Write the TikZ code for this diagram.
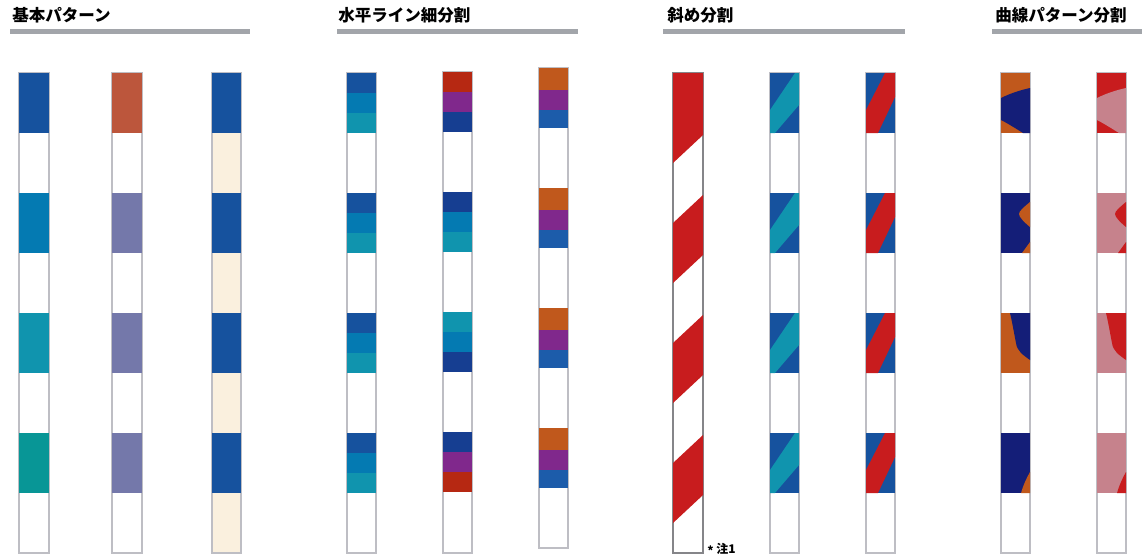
\documentclass[tikz,border=0pt]{standalone}
\usepackage{fontspec}
\newfontfamily\jpfont{Noto Sans CJK JP}
\definecolor{sigblue}{RGB}{22,82,158}
\definecolor{sigmid}{RGB}{4,122,178}
\definecolor{sigcyan}{RGB}{16,148,174}
\definecolor{sigteal}{RGB}{8,150,150}
\definecolor{sigbrick}{RGB}{188,86,60}
\definecolor{sigslate}{RGB}{116,120,170}
\definecolor{sigcream}{RGB}{250,240,222}
\definecolor{signavy}{RGB}{22,62,145}
\definecolor{sigred}{RGB}{182,40,18}
\definecolor{sigpurple}{RGB}{128,40,140}
\definecolor{sigorange}{RGB}{192,88,28}
\definecolor{sigroyal}{RGB}{28,92,170}
\definecolor{sigcrimson}{RGB}{200,28,30}
\definecolor{sigink}{RGB}{20,30,120}
\definecolor{sigpink}{RGB}{198,130,140}
\definecolor{sigrule}{RGB}{162,165,170}
\definecolor{sigedge}{RGB}{190,190,196}
\newcommand{\curvepole}[5]{%
\draw[pole] (#1,73) rectangle ++(29,480);
\fill[#2] (#1,73) rectangle ++(29,60);
\fill[#3] (#1,98) .. controls (#1+10,93) and (#1+20,90) .. (#1+29,88) -- (#1+29,133) -- (#1+22,133) .. controls (#1+14,128) and (#1+6,123) .. (#1,120) -- cycle;
\fill[#3] (#1,193) rectangle ++(29,60);
\fill[#2] (#1+29,202) .. controls (#1+23,207) and (#1+18,211) .. (#1+18,214) .. controls (#1+18,217) and (#1+23,222) .. (#1+29,227) -- cycle;
\fill[#2] (#1+29,242) -- (#1+29,253) -- (#1+21,253) -- cycle;
\fill[#4] (#1,313) rectangle ++(29,60);
\fill[#5] (#1+9,313) -- (#1+29,313) -- (#1+29,360) .. controls (#1+22,355) and (#1+16,351) .. (#1+15,343) .. controls (#1+13,333) and (#1+11,321) .. (#1+9,313) -- cycle;
\fill[#3] (#1,433) rectangle ++(29,60);
\fill[#2] (#1+29,472) .. controls (#1+25,479) and (#1+22,486) .. (#1+20,493) -- (#1+29,493) -- cycle;}

\begin{document}
\begin{tikzpicture}[x=0.02cm, y=-0.02cm,
  pole/.style={draw=sigedge, line width=0.6pt, fill=white},
  rule/.style={fill=sigrule},
  head/.style={anchor=base west, inner sep=0pt, font=\jpfont\bfseries\fontsize{9.4pt}{11pt}\selectfont},
  note/.style={anchor=base west, inner sep=0pt, font=\jpfont\bfseries\fontsize{6.8pt}{8pt}\selectfont}]
\useasboundingbox (0,0) rectangle (1142,556);
\foreach \x/\w in {10/240,337/241,663/242,992/150} \fill[rule] (\x,29) rectangle ++(\w,5);
\node[head] (h1) at (12,21) {基本パターン};
\node[head] (h2) at (338,21) {水平ライン細分割};
\node[head] (h3) at (667,21) {斜め分割};
\node[head] (h4) at (995,21) {曲線パターン分割};

\draw[pole] (19,73) rectangle ++(30,480); \draw[pole] (112,73) rectangle ++(30,480); \draw[pole, fill=sigcream] (212,73) rectangle ++(29,480);
\foreach \c [count=\k from 0] in {sigblue,sigmid,sigcyan,sigteal} \fill[\c] (19,73+120*\k) rectangle ++(30,60);
\foreach \c [count=\k from 0] in {sigbrick,sigslate,sigslate,sigslate} \fill[\c] (112,73+120*\k) rectangle ++(30,60);
\foreach \k in {0,...,3} \fill[sigblue] (212,73+120*\k) rectangle ++(29,60);

\draw[pole] (347,73) rectangle ++(29,480); \draw[pole] (443,72) rectangle ++(29,481); \draw[pole] (539,68) rectangle ++(29,480);
\foreach \k in {0,...,3} \foreach \c [count=\j from 0] in {sigblue,sigmid,sigcyan} \fill[\c] (347,73+120*\k+20*\j) rectangle ++(29,20);
\foreach \a/\b/\c [count=\k from 0] in {sigred/sigpurple/signavy,signavy/sigmid/sigcyan,sigcyan/sigmid/signavy,signavy/sigpurple/sigred} {
  \fill[\a] (443,72+120*\k) rectangle ++(29,20); \fill[\b] (443,92+120*\k) rectangle ++(29,20); \fill[\c] (443,112+120*\k) rectangle ++(29,20);}
\foreach \k in {0,...,3} {\fill[sigorange] (539,68+120*\k) rectangle ++(29,22); \fill[sigpurple] (539,90+120*\k) rectangle ++(29,20); \fill[sigroyal] (539,110+120*\k) rectangle ++(29,18);}

\draw[pole, draw=sigedge!70!black] (673,73) rectangle ++(30,480);
\fill[sigcrimson] (673,73) rectangle ++(30,60);
\foreach \k in {0,...,3} \fill[sigcrimson] (673,103+120*\k) -- (703,75+120*\k) -- (703,135+120*\k) -- (673,163+120*\k) -- cycle;
\draw[pole] (770,73) rectangle ++(29,480); \draw[pole] (866,73) rectangle ++(29,480);
\foreach \k in {0,...,3} {
  \fill[sigblue] (770,73+120*\k) rectangle ++(29,60);
  \fill[sigcyan] (770,110+120*\k) -- (795,73+120*\k) -- (799,73+120*\k) -- (799,105+120*\k) -- (775,133+120*\k) -- (770,133+120*\k) -- cycle;
  \fill[sigblue] (866,73+120*\k) rectangle ++(29,60);
  \fill[sigcrimson] (866,110+120*\k) -- (885,73+120*\k) -- (895,73+120*\k) -- (895,97+120*\k) -- (878,133+120*\k) -- (866,133+120*\k) -- cycle;}
\node[note] (n1) at (707,553) {\raisebox{-0.35ex}{*} 注1};

\curvepole{1001}{sigorange}{sigink}{sigorange}{sigink}
\curvepole{1097}{sigcrimson}{sigpink}{sigpink}{sigcrimson}
\end{tikzpicture}
\end{document}
